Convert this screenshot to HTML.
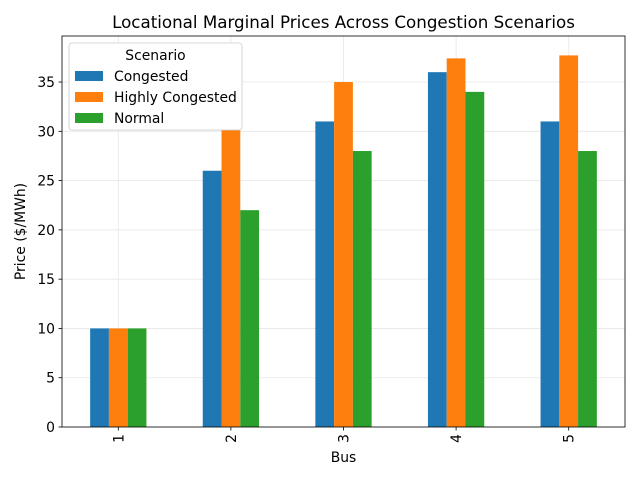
<!DOCTYPE html>
<html><head><meta charset="utf-8"><style>
body{margin:0;background:#fff;font-family:"Liberation Sans","DejaVu Sans",sans-serif}
</style></head><body>
<svg id="c" width="640" height="480" xmlns="http://www.w3.org/2000/svg" font-family="DejaVu Sans, Liberation Sans, sans-serif"></svg>
<script>
const categories=["1","2","3","4","5"];
const congested=[10,26,31,36,31];
const highly=[10,31,35,37.4,37.7];
const normal=[10,22,28,34,28];
const yTicks=[0,5,10,15,20,25,30,35];
const seriesNames=["Congested","Highly Congested","Normal"];
const colors=["#1f77b4","#ff7f0e","#2ca02c"];
const L=62,R=625,T=36,B=427,yMax=39.67;
const svg=document.getElementById('c');
const NS="http://www.w3.org/2000/svg";
function y(v){return B-(v/yMax)*(B-T);}
function x(i){return L+(i+0.5)*(R-L)/categories.length;}
function mk(t,a,txt){const e=document.createElementNS(NS,t);for(const k in a)e.setAttribute(k,a[k]);if(txt!=null)e.textContent=txt;svg.appendChild(e);return e;}
const unit=(R-L)/categories.length, bw=unit*0.5/3;
const FS=13.9;
yTicks.forEach(v=>{const g=mk('line',{x1:L,x2:R,y1:y(v),y2:y(v),stroke:'#e6e6e6','stroke-width':0.8});

});
categories.forEach((c,i)=>{const g=mk('line',{x1:x(i),x2:x(i),y1:T,y2:B,stroke:'#e6e6e6','stroke-width':0.8});

});
[congested,highly,normal].forEach((s,si)=>{s.forEach((v,i)=>{
const bx=x(i)-1.5*bw+si*bw;
const r=mk('rect',{x:bx,y:y(v),width:bw,height:B-y(v),fill:colors[si]});


});});
const fr=mk('rect',{x:L,y:T,width:R-L,height:B-T,fill:'none',stroke:'#000','stroke-width':0.8});


yTicks.forEach(v=>{mk('line',{x1:L-3.5,x2:L,y1:y(v),y2:y(v),stroke:'#000','stroke-width':0.8});
const t=mk('text',{x:L-7,y:y(v)+5,'text-anchor':'end','font-size':FS},String(v));

});
categories.forEach((c,i)=>{mk('line',{x1:x(i),x2:x(i),y1:B,y2:B+3.5,stroke:'#000','stroke-width':0.8});
const t=mk('text',{x:0,y:0,'text-anchor':'end','font-size':FS,transform:`translate(${x(i)+5},${B+7}) rotate(-90)`},c);

});
let t=mk('text',{x:(L+R)/2,y:462,'text-anchor':'middle','font-size':FS},'Bus');


t=mk('text',{x:0,y:0,'text-anchor':'middle','font-size':FS,transform:`translate(25,${(T+B)/2}) rotate(-90)`},'Price ($/MWh)');


t=mk('text',{x:(L+R)/2,y:28,'text-anchor':'middle','font-size':16.7},'Locational Marginal Prices Across Congestion Scenarios');


const lg=mk('rect',{x:69,y:43,width:173,height:87,rx:3,fill:'#fff',stroke:'#ccc','stroke-width':0.8});


t=mk('text',{x:155.5,y:60,'text-anchor':'middle','font-size':FS},'Scenario');


seriesNames.forEach((n,i)=>{const yy=71+i*21;
const sw=mk('rect',{x:75,y:yy,width:28,height:10,fill:colors[i]});


const tt=mk('text',{x:114,y:yy+10,'font-size':FS},n);

});
</script>
</body></html>
